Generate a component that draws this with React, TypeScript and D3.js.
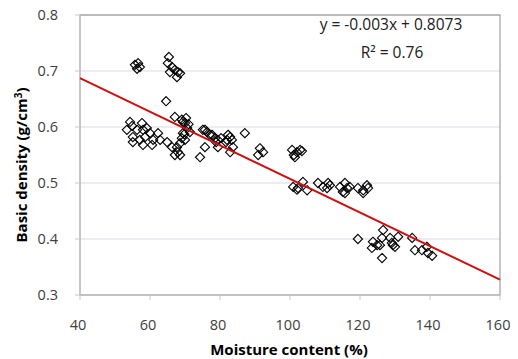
import React from "react";
import * as d3 from "d3";

const moisture = [
  55.7, 56.6, 57.1, 56.3,
  65.4, 65.1, 66.3, 67.1, 68.0, 65.7, 68.6, 67.7, 64.6,
  54.3, 53.4, 54.9, 55.1, 56.3, 57.7, 58.0, 59.1, 58.6, 57.1, 55.1, 60.0, 60.9, 60.6, 58.0,
  62.3, 62.9, 64.9, 66.3, 67.1, 69.1, 70.0, 70.6, 69.4, 69.1, 68.6, 67.7, 68.0, 67.1, 68.6,
  71.4, 74.3, 75.7, 75.7, 77.1, 79.4, 79.4, 82.0, 82.3,
  70.3, 69.4, 71.0, 69.8, 70.0, 75.1, 76.3, 77.7, 78.6, 78.9, 80.3, 82.9, 83.4, 81.7, 82.9, 83.7, 87.1,
  91.4, 92.3, 90.9, 100.6, 102.0, 102.9, 101.4, 103.4, 101.1,
  100.9, 102.3, 103.7, 104.9, 102.0, 108.0, 109.4, 110.9, 110.6, 111.4,
  114.3, 115.7, 116.3, 115.1, 117.1, 119.4, 120.9, 122.0, 122.3, 115.7, 120.9,
  119.4, 123.7, 123.4, 124.9, 126.6, 126.3, 125.7, 128.6, 129.1, 130.0, 130.9, 129.4, 126.3,
  134.9, 135.7, 137.7, 139.1, 139.4, 140.6,
];
const density = [
  0.711, 0.714, 0.707, 0.704,
  0.725, 0.714, 0.707, 0.702, 0.698, 0.698, 0.696, 0.689, 0.646,
  0.609, 0.595, 0.602, 0.582, 0.595, 0.607, 0.595, 0.598, 0.582, 0.577, 0.573, 0.589, 0.577, 0.568, 0.568,
  0.589, 0.577, 0.573, 0.564, 0.618, 0.613, 0.607, 0.598, 0.589, 0.580, 0.571, 0.564, 0.555, 0.550, 0.550,
  0.591, 0.546, 0.564, 0.595, 0.586, 0.577, 0.564, 0.577, 0.586,
  0.616, 0.609, 0.605, 0.587, 0.577, 0.595, 0.591, 0.586, 0.580, 0.573, 0.580, 0.582, 0.577, 0.573, 0.555, 0.564, 0.589,
  0.562, 0.555, 0.550, 0.559, 0.555, 0.559, 0.546, 0.557, 0.550,
  0.493, 0.491, 0.502, 0.487, 0.488, 0.500, 0.493, 0.500, 0.491, 0.496,
  0.493, 0.500, 0.491, 0.484, 0.493, 0.491, 0.487, 0.496, 0.491, 0.482, 0.482,
  0.400, 0.395, 0.384, 0.389, 0.416, 0.402, 0.389, 0.402, 0.393, 0.386, 0.404, 0.389, 0.366,
  0.402, 0.380, 0.380, 0.386, 0.375, 0.370,
];

const xTicks = [40, 60, 80, 100, 120, 140, 160];
const yTicks = [0.3, 0.4, 0.5, 0.6, 0.7, 0.8];
const slope = -0.003;
const intercept = 0.8073;
const equationText = "y = -0.003x + 0.8073";
const r2Text = "R² = 0.76";

export default function App() {
  const W = 518, H = 359;
  const left = 80, right = 500, top = 15, bottom = 295;
  const x = d3.scaleLinear().domain([40, 160]).range([left, right]);
  const y = d3.scaleLinear().domain([0.3, 0.8]).range([bottom, top]);
  const font = "'Open Sans', 'Noto Sans', sans-serif";
  const s = 4.6;
  const pts = moisture.map((m, i) => [x(m), y(density[i])]);
  return (
    <svg width={W} height={H} style={{ position: "absolute", left: 0, top: 0, background: "#fff" }}>
      {yTicks.map((t) => (
        <line key={"g" + t} x1={left} x2={right} y1={y(t)} y2={y(t)} stroke="#d9d9e6" strokeWidth={1} />
      ))}
      <rect x={left} y={top} width={right - left} height={bottom - top} fill="none" stroke="#8c8c8c" strokeWidth={1} />
      <line x1={left} x2={left} y1={top} y2={bottom} stroke="#c8c8c8" />
      <line x1={left} x2={right} y1={bottom} y2={bottom} stroke="#c8c8c8" />
      {yTicks.map((t) => (
        <g key={"yt" + t}>
          <line x1={left - 5} x2={left} y1={y(t)} y2={y(t)} stroke="#c8c8c8" />
          <text x={58} y={y(t) + 5} textAnchor="end" fontFamily={font} fontSize={14.5} fill="#404040">
            {t.toFixed(1)}
          </text>
        </g>
      ))}
      {xTicks.map((t) => (
        <g key={"xt" + t}>
          <line x1={x(t)} x2={x(t)} y1={bottom} y2={bottom + 5} stroke="#c8c8c8" />
          <text x={x(t) - 2} y={330} textAnchor="middle" fontFamily={font} fontSize={14.5} fill="#404040">
            {t}
          </text>
        </g>
      ))}
      {pts.map(([px, py], i) => (
        <path
          key={i}
          d={`M${px},${py - s}L${px + s},${py}L${px},${py + s}L${px - s},${py}Z`}
          fill="none"
          stroke="#000"
          strokeWidth={1.1}
        />
      ))}
      <line
        x1={x(40)}
        x2={x(160)}
        y1={y(slope * 40 + intercept)}
        y2={y(slope * 160 + intercept)}
        stroke="#d01010"
        strokeWidth={2}
      />
      <text x={391} y={30} textAnchor="middle" fontFamily={font} fontSize={15.5} fill="#202020">
        {equationText}
      </text>
      <text x={392} y={58} textAnchor="middle" fontFamily={font} fontSize={15.5} fill="#202020">
        {r2Text}
      </text>
      <text x={289} y={355} textAnchor="middle" fontFamily={font} fontSize={15} fontWeight="bold" fill="#000">
        Moisture content (%)
      </text>
      <text
        transform={`translate(27,${(top + bottom) / 2 + 10}) rotate(-90)`}
        textAnchor="middle"
        fontFamily={font}
        fontSize={15}
        fontWeight="bold"
        fill="#000"
      >
        Basic density (g/cm
        <tspan dy={-5} fontSize={10}>3</tspan>
        <tspan dy={5}>)</tspan>
      </text>
    </svg>
  );
}
